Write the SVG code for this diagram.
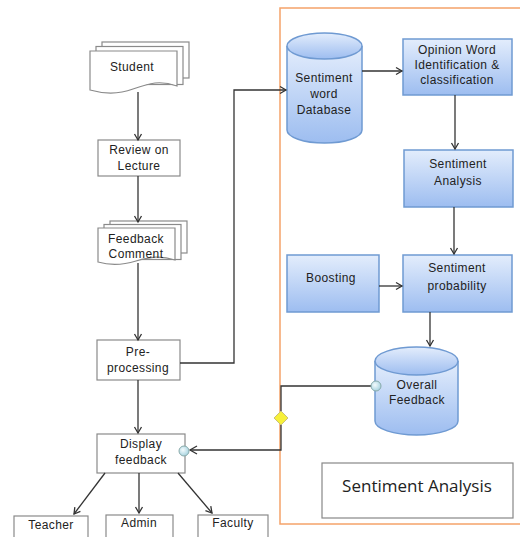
<svg xmlns="http://www.w3.org/2000/svg" width="520" height="537" viewBox="0 0 520 537">
<defs>
<linearGradient id="bg" x1="0" y1="0" x2="0" y2="1">
<stop offset="0" stop-color="#e3edfc"/>
<stop offset="1" stop-color="#9dbdf0"/>
</linearGradient>
<radialGradient id="cg" cx="0.4" cy="0.4" r="0.6">
<stop offset="0" stop-color="#f4fbfd"/>
<stop offset="1" stop-color="#a9d4e0"/>
</radialGradient>
<marker id="ah" markerWidth="10" markerHeight="10" refX="8" refY="5" orient="auto" markerUnits="userSpaceOnUse">
<path d="M2,1.5 L8,5 L2,8.5" fill="none" stroke="#333" stroke-width="1.3"/>
</marker>
<style>
.box{fill:#fff;stroke:#8a8a8a;stroke-width:1.2}
.blue{fill:url(#bg);stroke:#6f9ad2;stroke-width:1.5}
.t{font-family:"Liberation Sans",Arial,sans-serif;font-size:12px;letter-spacing:0.4px;fill:#222;text-anchor:middle}
.c{fill:none;stroke:#333;stroke-width:1.3}
.ca{fill:none;stroke:#333;stroke-width:1.3;marker-end:url(#ah)}
</style>
</defs>
<rect width="520" height="537" fill="#fff"/>
<rect x="280" y="8" width="250" height="516" fill="none" stroke="#f5a36a" stroke-width="1.5"/>

<g id="student">
<rect class="box" x="102" y="42" width="87" height="36"/>
<rect class="box" x="96" y="46.5" width="87" height="38"/>
<path class="box" d="M90,51 H177 V86 C160,80 150,83 133,89 C117,95 104,94 90,90 Z"/>
<text class="t" x="132" y="71">Student</text>
</g>

<g id="review">
<rect class="box" x="98" y="140" width="82" height="36"/>
<text class="t" x="139" y="154">Review on</text>
<text class="t" x="139" y="170">Lecture</text>
</g>

<g id="feedback-comment">
<rect class="box" x="110" y="221" width="77" height="32"/>
<rect class="box" x="104" y="224.5" width="77" height="35"/>
<path class="box" d="M98,228 H175 V260 C160,255 150,257 136,261 C120,266 108,265 98,262 Z"/>
<text class="t" x="136" y="243">Feedback</text>
<text class="t" x="136" y="258">Comment</text>
</g>

<g id="preprocessing">
<rect class="box" x="97" y="340" width="83" height="40"/>
<text class="t" x="138" y="356">Pre-</text>
<text class="t" x="138" y="372">processing</text>
</g>

<g id="display">
<rect class="box" x="97" y="434" width="88" height="39"/>
<text class="t" x="141" y="448">Display</text>
<text class="t" x="141" y="464">feedback</text>
</g>

<g id="teacher">
<rect class="box" x="14" y="516" width="74" height="30"/>
<text class="t" x="51" y="529">Teacher</text>
</g>
<g id="admin">
<rect class="box" x="106" y="515" width="67" height="30"/>
<text class="t" x="139" y="527">Admin</text>
</g>
<g id="faculty">
<rect class="box" x="198" y="515" width="70" height="30"/>
<text class="t" x="233" y="527">Faculty</text>
</g>

<g id="sentiment-db">
<path class="blue" d="M287,46 V130 A37.5,13 0 0 0 362,130 V46"/>
<ellipse class="blue" cx="324.5" cy="46" rx="37.5" ry="13"/>
<text class="t" x="324" y="82">Sentiment</text>
<text class="t" x="324" y="98">word</text>
<text class="t" x="324" y="114">Database</text>
</g>

<g id="opinion">
<rect class="blue" x="403" y="39" width="109" height="56"/>
<text class="t" x="457" y="54">Opinion Word</text>
<text class="t" x="457" y="69">Identification &amp;</text>
<text class="t" x="457" y="84">classification</text>
</g>

<g id="sentiment-analysis">
<rect class="blue" x="404" y="150" width="109" height="57"/>
<text class="t" x="458" y="168">Sentiment</text>
<text class="t" x="458" y="185">Analysis</text>
</g>

<g id="boosting">
<rect class="blue" x="287" y="255" width="92" height="57"/>
<text class="t" x="331" y="282">Boosting</text>
</g>

<g id="sentiment-probability">
<rect class="blue" x="403" y="255" width="109" height="57"/>
<text class="t" x="457" y="272">Sentiment</text>
<text class="t" x="457" y="290">probability</text>
</g>

<g id="overall-feedback">
<path class="blue" d="M375,361 V421 A41.5,14 0 0 0 458,421 V361"/>
<ellipse class="blue" cx="416.5" cy="361" rx="41.5" ry="14"/>
<text class="t" x="417" y="389">Overall</text>
<text class="t" x="417" y="404">Feedback</text>
</g>

<g id="label">
<rect x="322" y="463" width="191" height="55" fill="#fff" stroke="#888" stroke-width="1.2"/>
<text x="417" y="492" font-family="'Open Sans','Liberation Sans',sans-serif" font-size="17" fill="#222" text-anchor="middle">Sentiment Analysis</text>
</g>

<g id="connectors">
<line class="ca" x1="138" y1="92" x2="138" y2="140"/>
<line class="ca" x1="138" y1="176" x2="138" y2="222"/>
<line class="ca" x1="138" y1="263" x2="138" y2="340"/>
<polyline class="ca" points="180,363 234,363 234,90 286,90"/>
<line class="ca" x1="362" y1="71" x2="402" y2="71"/>
<line class="ca" x1="455" y1="95" x2="455" y2="149"/>
<line class="ca" x1="454" y1="207" x2="454" y2="254"/>
<line class="ca" x1="379" y1="286" x2="402" y2="286"/>
<line class="ca" x1="430" y1="312" x2="430" y2="346"/>
<line class="ca" x1="138" y1="380" x2="138" y2="433"/>
<polyline class="c" points="376,386 281,386 281,450 190,450"/>
<path d="M197,446 L190,450 L197,454" fill="none" stroke="#333" stroke-width="1.3"/>
<line class="ca" x1="105" y1="473" x2="74" y2="514"/>
<line class="ca" x1="139" y1="473" x2="139" y2="513"/>
<line class="ca" x1="178" y1="473" x2="212" y2="513"/>
<path d="M281,411 L288,418 L281,425 L274,418 Z" fill="#f7f03a" stroke="#c9c07a" stroke-width="1"/>
<circle cx="376" cy="386" r="5" fill="url(#cg)" stroke="#8aa" stroke-width="1"/>
<circle cx="184" cy="451" r="5" fill="url(#cg)" stroke="#8aa" stroke-width="1"/>
</g>
</svg>
